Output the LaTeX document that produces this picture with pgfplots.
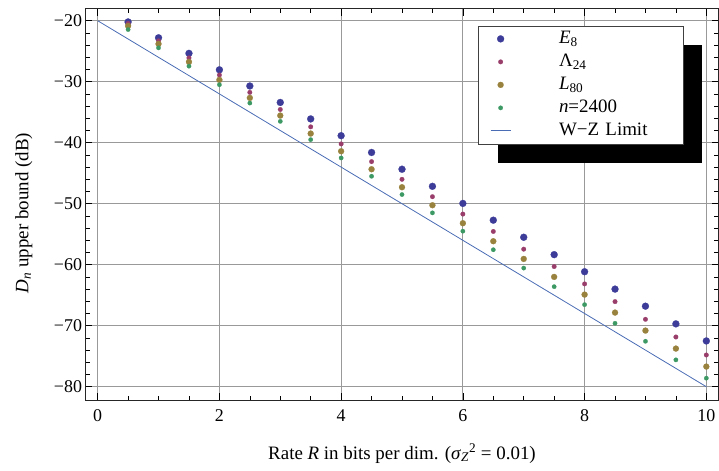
\documentclass[border=0pt]{standalone}
\usepackage{fontspec}
\setmainfont{Liberation Serif}
\usepackage{pgfplots}
\pgfplotsset{compat=1.18}
\definecolor{cE}{RGB}{61,61,153}
\definecolor{cL}{RGB}{153,61,107}
\definecolor{cO}{RGB}{153,130,61}
\definecolor{cN}{RGB}{61,153,100}
\definecolor{cW}{RGB}{74,108,180}
\begin{document}
\begin{tikzpicture}
\begin{axis}[
 scale only axis, width=633bp, height=391.3bp,
 xmin=-0.2, xmax=10.2, ymin=-82.18, ymax=-18.03,
 xtick={0,2,4,6,8,10}, ytick={-80,-70,-60,-50,-40,-30,-20},
 yticklabels={−80,−70,−60,−50,−40,−30,−20},
 minor x tick num=3, minor y tick num=4,
 tick align=inside, major tick length=7bp, minor tick length=4.5bp,
 tick style={black, line width=0.6bp},
 axis line style={black!85, line width=0.7bp},
 grid=major, major grid style={black!40, line width=0.9bp},
 /pgf/number format/assume math mode=true,
 ticklabel style={font=\fontsize{18}{20}\selectfont},
 xticklabel style={yshift=-6bp},
 xlabel={Rate \textit{R} in bits per dim. (\textit{σ}\textsubscript{\textit{Z}}\textsuperscript{2} = 0.01)},
 xlabel style={at={(axis description cs:0.5,-0.1508)}, anchor=base, font=\fontsize{19}{22}\selectfont},
 ylabel={\textit{D}\textsubscript{\textit{n}} upper bound (dB)},
 ylabel style={at={(axis description cs:-0.0904,0.478)}, anchor=base, font=\fontsize{19}{22}\selectfont},
 legend cell align=left,
 legend image code/.code={\draw[mark repeat=2,mark phase=2,#1] plot coordinates {(0bp,0bp) (10bp,0bp) (20bp,0bp)};},
 legend style={at={(0.6201,0.9566)}, anchor=north west, draw=black!75, fill=white,
   inner xsep=12bp, inner ysep=4.5bp, row sep=6bp, column sep=48bp,
   font=\fontsize{19}{22}\selectfont,
   nodes={inner xsep=0bp, inner ysep=0bp, text width=112bp, text height=13bp, text depth=4bp}},
]
\addplot[only marks, mark=*, mark size=3.5bp, color=cE, mark options={line width=0.2bp}] table {
0.5 -20.2
1 -22.8
1.5 -25.35
2 -28.05
2.5 -30.7
3 -33.4
3.5 -36.1
4 -38.85
4.5 -41.6
5 -44.35
5.5 -47.15
6 -49.95
6.5 -52.7
7 -55.5
7.5 -58.35
8 -61.15
8.5 -64.0
9 -66.8
9.5 -69.7
10 -72.5
};
\addlegendentry{\textit{E}\textsubscript{8}}
\addplot[only marks, mark=*, mark size=2.3bp, color=cL, mark options={line width=0.2bp}] table {
0.5 -20.45
1 -23.3
1.5 -26.1
2 -28.9
2.5 -31.75
3 -34.55
3.5 -37.4
4 -40.2
4.5 -43.1
5 -46.0
5.5 -48.85
6 -51.7
6.5 -54.55
7 -57.45
7.5 -60.3
8 -63.15
8.5 -66.05
9 -68.95
9.5 -71.85
10 -74.8
};
\addlegendentry{Λ\textsubscript{24}}
\addplot[only marks, mark=*, mark size=3.0bp, color=cO, mark options={line width=0.2bp}] table {
0.5 -20.85
1 -23.8
1.5 -26.75
2 -29.7
2.5 -32.65
3 -35.55
3.5 -38.5
4 -41.4
4.5 -44.35
5 -47.3
5.5 -50.25
6 -53.2
6.5 -56.15
7 -59.05
7.5 -62.0
8 -64.9
8.5 -67.85
9 -70.8
9.5 -73.75
10 -76.7
};
\addlegendentry{\textit{L}\textsubscript{80}}
\addplot[only marks, mark=*, mark size=2.2bp, color=cN, mark options={line width=0.2bp}] table {
0.5 -21.45
1 -24.45
1.5 -27.45
2 -30.5
2.5 -33.5
3 -36.5
3.5 -39.5
4 -42.5
4.5 -45.5
5 -48.5
5.5 -51.5
6 -54.5
6.5 -57.55
7 -60.55
7.5 -63.6
8 -66.55
8.5 -69.6
9 -72.55
9.5 -75.6
10 -78.6
};
\addlegendentry{\textit{n}=2400}
\addplot[color=cW, line width=0.8bp, no marks] table {
0 -20
10 -80
};
\addlegendentry{W−Z Limit}
\fill[black] (rel axis cs:0.6509,0.6069) rectangle (rel axis cs:0.9747,0.9060);
\end{axis}
\pgfresetboundingbox
\useasboundingbox ([shift={(-85.5bp,-71bp)}]current axis.south west) rectangle ([shift={(0.5bp,8.7bp)}]current axis.north east);
\end{tikzpicture}
\end{document}
